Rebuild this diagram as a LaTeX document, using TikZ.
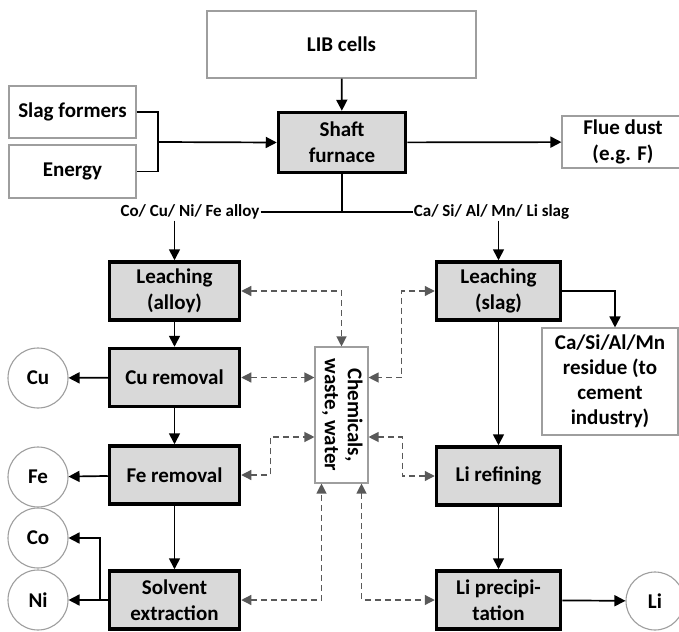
\documentclass[tikz,border=0pt]{standalone}
\usepackage{fontspec}
\setmainfont{Carlito}
\usepackage{graphicx}
\usetikzlibrary{arrows.meta}

\begin{document}
\begin{tikzpicture}[x=1pt,y=-1pt,
  every node/.style={font=\fontsize{21}{26}\selectfont\bfseries,align=center,inner sep=2pt},
  plain/.style={draw=black!38,line width=1.1pt,fill=white},
  stage/.style={draw=black,line width=3.5pt,fill=black!15,minimum width=130pt,minimum height=58pt},
  prod/.style={circle,draw=black!38,line width=1.1pt,fill=white,minimum size=60pt,inner sep=0pt},
  stream/.style={font=\fontsize{17}{20}\selectfont\bfseries,inner sep=1pt},
  flow/.style={line width=1.7pt,-{Triangle[length=11pt,width=11pt]}},
  aux/.style={draw=black!65,line width=1.2pt,dash pattern=on 6pt off 4pt,
    {Triangle[length=10pt,width=10pt]}-{Triangle[length=10pt,width=10pt]}}]
  \useasboundingbox (0,0) rectangle (679,631);
  \clip (0,0) rectangle (679,631);
  \node[plain,minimum width=269pt,minimum height=67pt] (lib) at (341.5,44.5) {LIB cells};
  \node[plain,minimum width=127pt,minimum height=52pt] (slagf) at (72.5,112) {Slag formers};
  \node[plain,minimum width=127pt,minimum height=53pt] (energy) at (72.5,171.5) {Energy};
  \node[stage,minimum width=127pt,minimum height=60pt] (furnace) at (342,142.5) {Shaft\\furnace};
  \node[plain,minimum width=122pt,minimum height=52pt] (flue) at (623,142) {Flue dust\\(e.g. F)};
  \node[stream] (alloy) at (190,212) {Co/ Cu/ Ni/ Fe alloy};
  \node[stream] (slag) at (491.5,212) {Ca/ Si/ Al/ Mn/ Li slag};
  \node[stage] (leachA) at (174.5,291) {Leaching\\(alloy)};
  \node[stage] (curem) at (174.5,377.5) {Cu removal};
  \node[stage] (ferem) at (174.5,475) {Fe removal};
  \node[stage] (solvex) at (174.5,600) {Solvent\\extraction};
  \node[stage,minimum width=124pt] (leachS) at (498.5,291) {Leaching\\(slag)};
  \node[stage,minimum width=124pt] (liref) at (498.5,476) {Li refining};
  \node[stage,minimum width=124pt] (liprec) at (498.5,600) {Li precipi-\\tation};
  \node[plain,minimum width=53pt,minimum height=136pt,inner sep=0pt] (chem) at (341.5,415)
    {\rotatebox{-90}{\begin{tabular}{@{}c@{}}Chemicals,\\[-3pt]waste, water\end{tabular}}};
  \node[plain,minimum width=136pt,minimum height=107pt,font=\fontsize{21}{25}\selectfont\bfseries] (resid) at (610,381.5)
    {Ca/Si/Al/Mn\\residue (to\\cement\\industry)};
  \node[prod] (cu) at (38,378) {Cu};
  \node[prod] (fe) at (38,477) {Fe};
  \node[prod] (co) at (38,538) {Co};
  \node[prod] (ni) at (38,600) {Ni};
  \node[prod,minimum size=58pt] (li) at (655,601) {Li};
  \coordinate (feed) at (158,142);
  \coordinate (split) at (100,600);
  \draw[flow] (lib) -- (furnace);
  \draw[line width=1.7pt] (slagf.east) -| (feed) |- (energy.east);
  \draw[flow] (feed) -- (furnace.west);
  \draw[flow] (furnace) -- (flue);
  \draw[line width=1.7pt] (furnace.south) -- (furnace.south |- alloy.east);
  \draw[line width=1.7pt] (alloy.east) -- (slag.west);
  \draw[flow] (leachA.north |- alloy.south) -- (leachA.north);
  \draw[flow] (leachS.north |- slag.south) -- (leachS.north);
  \draw[flow] (leachA) -- (curem);
  \draw[flow] (curem) -- (ferem);
  \draw[flow] (ferem) -- (solvex);
  \draw[flow] (curem) -- (cu);
  \draw[flow] (ferem) -- (fe);
  \draw[line width=1.7pt] (solvex.west) -- (split);
  \draw[flow] (split) -- (ni);
  \draw[flow] (split) |- (co.east);
  \draw[flow] (leachS) -- (liref);
  \draw[flow] (liref) -- (liprec);
  \draw[flow] (liprec) -- (li);
  \draw[flow] (leachS.east) -| ([xshift=5pt]resid.north);
  \draw[aux] (leachA.east) -| (chem.north);
  \draw[aux] (curem.east) -- (curem.east -| chem.west);
  \draw[aux] (ferem.east) -- ++(29,0) |- ([yshift=-22pt]chem.west);
  \draw[aux] (solvex.east) -| ([xshift=-20pt]chem.south);
  \draw[aux] (leachS.west) -- ++(-33,0) |- (chem.east |- curem.east);
  \draw[aux] ([yshift=-22pt]chem.east) -- ++(34,0) |- (liref.west);
  \draw[aux] ([xshift=20pt]chem.south) |- (liprec.west);
\end{tikzpicture}
\end{document}
